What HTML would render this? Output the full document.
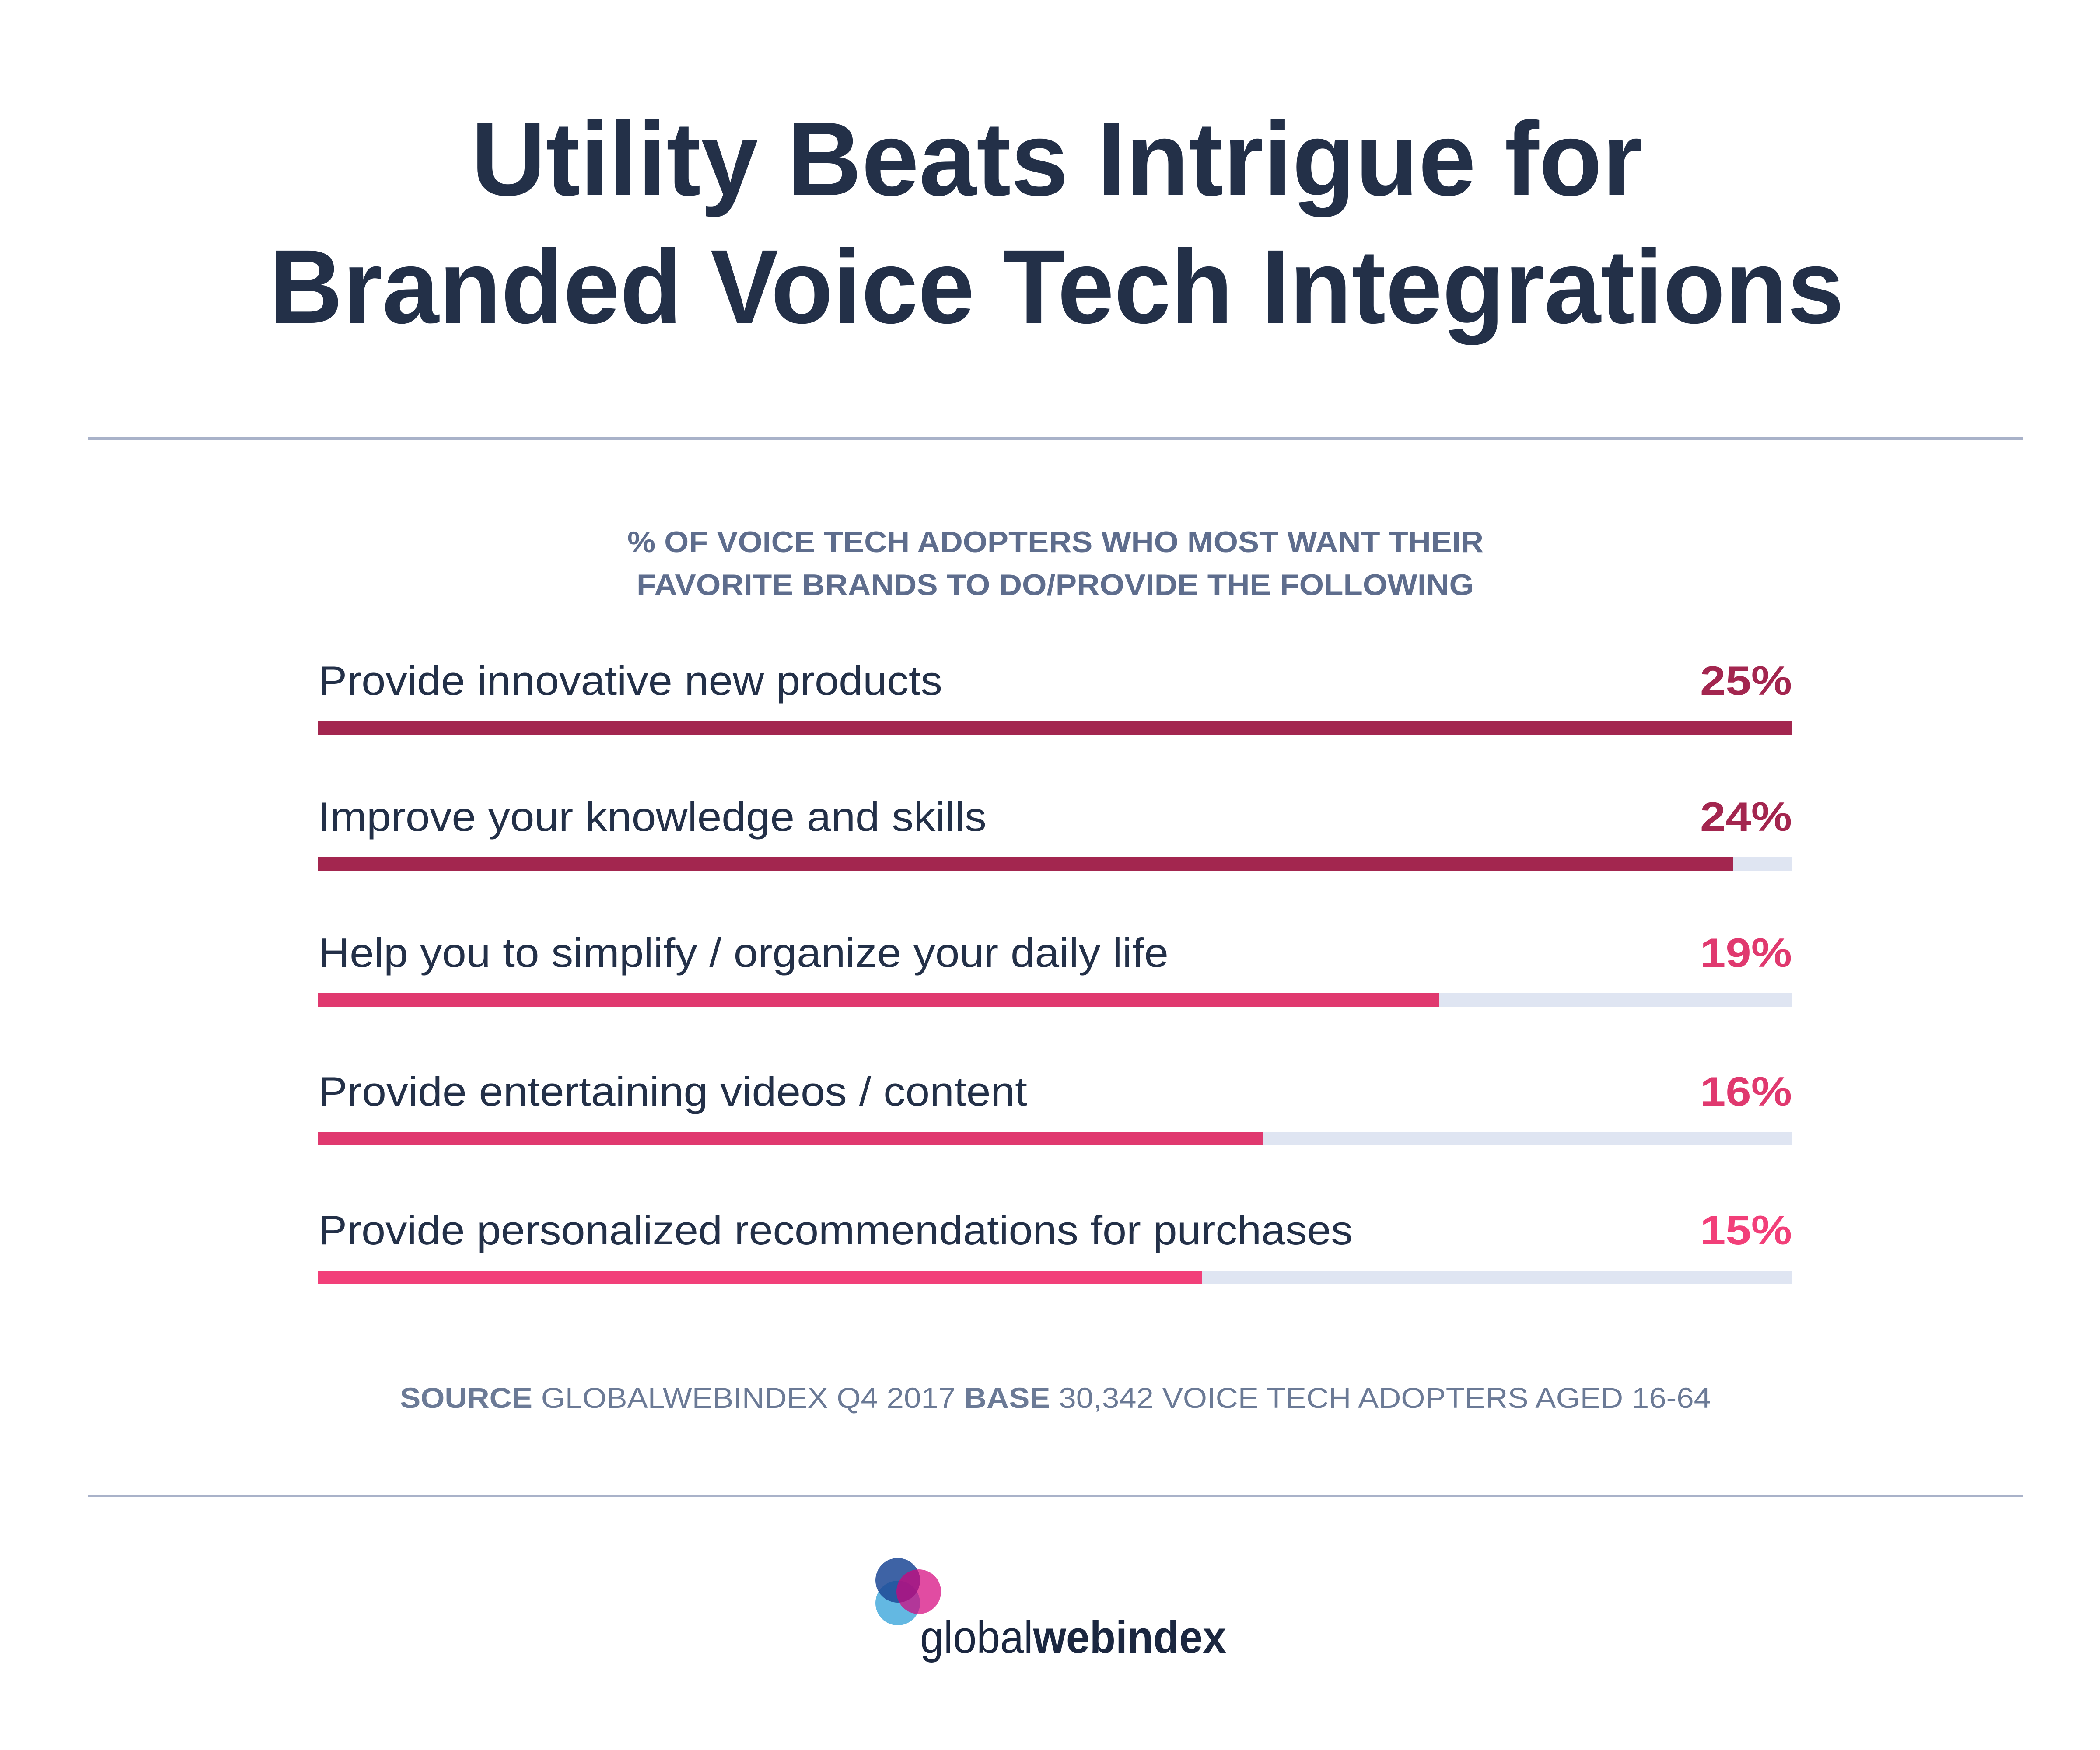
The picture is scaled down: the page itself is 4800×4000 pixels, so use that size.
<!DOCTYPE html>
<html><head><meta charset="utf-8"><style>
html,body{margin:0;padding:0;background:#fff;}
svg{display:block;}
text{font-family:"Liberation Sans",sans-serif;}
</style></head><body>
<svg width="4800" height="4000" viewBox="0 0 4800 4000" xmlns="http://www.w3.org/2000/svg">
<rect width="4800" height="4000" fill="#fff"/>
<g fill="#233048" font-weight="bold" font-size="240">
<text x="1077" y="446" textLength="2677" lengthAdjust="spacingAndGlyphs">Utility Beats Intrigue for</text>
<text x="615" y="738" textLength="3600" lengthAdjust="spacingAndGlyphs">Branded Voice Tech Integrations</text>
</g>
<rect x="200" y="1000" width="4425" height="6" fill="#a9b2c9"/>
<rect x="200" y="3416" width="4425" height="6" fill="#a9b2c9"/>
<g fill="#5e6d8d" font-weight="bold" font-size="68">
<text x="1434" y="1262" textLength="1957" lengthAdjust="spacingAndGlyphs">% OF VOICE TECH ADOPTERS WHO MOST WANT THEIR</text>
<text x="1455" y="1360" textLength="1914" lengthAdjust="spacingAndGlyphs">FAVORITE BRANDS TO DO/PROVIDE THE FOLLOWING</text>
</g>
<g fill="#233048" font-size="94">
<text x="727" y="1588" textLength="1427" lengthAdjust="spacingAndGlyphs">Provide innovative new products</text>
<text x="727" y="1899" textLength="1528" lengthAdjust="spacingAndGlyphs">Improve your knowledge and skills</text>
<text x="727" y="2210" textLength="1944" lengthAdjust="spacingAndGlyphs">Help you to simplify / organize your daily life</text>
<text x="727" y="2527" textLength="1621" lengthAdjust="spacingAndGlyphs">Provide entertaining videos / content</text>
<text x="727" y="2844" textLength="2365" lengthAdjust="spacingAndGlyphs">Provide personalized recommendations for purchases</text>
</g>
<g font-weight="bold" font-size="94">
<text x="3886" y="1588" textLength="210" lengthAdjust="spacingAndGlyphs" fill="#a3264f">25%</text>
<text x="3886" y="1899" textLength="210" lengthAdjust="spacingAndGlyphs" fill="#a3264f">24%</text>
<text x="3886" y="2210" textLength="210" lengthAdjust="spacingAndGlyphs" fill="#e0396f">19%</text>
<text x="3886" y="2527" textLength="210" lengthAdjust="spacingAndGlyphs" fill="#e0396f">16%</text>
<text x="3886" y="2844" textLength="210" lengthAdjust="spacingAndGlyphs" fill="#f23f79">15%</text>
</g>
<g fill="#dfe5f2">
<rect x="727" y="1648" width="3369" height="31"/>
<rect x="727" y="1959" width="3369" height="31"/>
<rect x="727" y="2270" width="3369" height="31"/>
<rect x="727" y="2587" width="3369" height="31"/>
<rect x="727" y="2904" width="3369" height="31"/>
</g>
<rect x="727" y="1648" width="3369" height="31" fill="#a3264f"/>
<rect x="727" y="1959" width="3235" height="31" fill="#a3264f"/>
<rect x="727" y="2270" width="2562" height="31" fill="#e0396f"/>
<rect x="727" y="2587" width="2159" height="31" fill="#e0396f"/>
<rect x="727" y="2904" width="2021" height="31" fill="#f23f79"/>
<text x="914" y="3218" font-size="66" fill="#6b7a96" textLength="2997" lengthAdjust="spacingAndGlyphs"><tspan font-weight="bold">SOURCE</tspan> GLOBALWEBINDEX Q4 2017 <tspan font-weight="bold">BASE</tspan> 30,342 VOICE TECH ADOPTERS AGED 16-64</text>
<g>
<ellipse cx="2052" cy="3664" rx="51" ry="51" fill="#63b8e2"/>
<ellipse cx="2052" cy="3612" rx="51" ry="51" fill="#1c4895" fill-opacity="0.85"/>
<ellipse cx="2100" cy="3638" rx="51" ry="51" fill="#d4007a" fill-opacity="0.7"/>
</g>
<text x="2103" y="3778" font-size="105" fill="#1b2740" textLength="700" lengthAdjust="spacingAndGlyphs"><tspan font-weight="normal">global</tspan><tspan font-weight="bold">webindex</tspan></text>
</svg>
</body></html>
